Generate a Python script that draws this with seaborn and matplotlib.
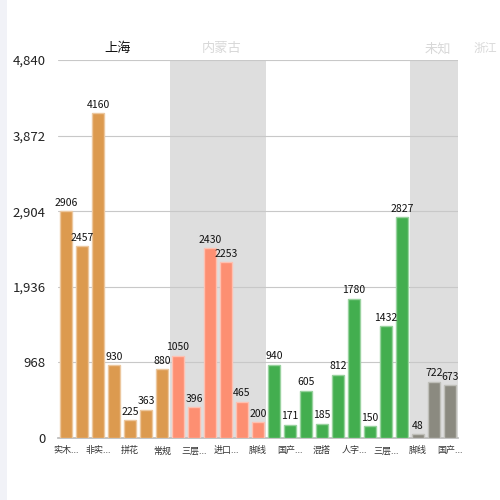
import matplotlib
matplotlib.use("Agg")
import matplotlib.pyplot as plt
import matplotlib.transforms as mtransforms
import matplotlib.colors as mcolors
from matplotlib.ticker import FuncFormatter
import seaborn as sns
import pandas as pd
import numpy as np

sns.set_theme(style="white")
plt.rcParams['font.family'] = ['Noto Sans CJK SC', 'DejaVu Sans']

# ---- data ----
categories = ["实木地板", "非实木地板", "非实木复合", "拼花", "拼花实木", "常规", "常规复合",
              "三层实木", "三层复合", "进口实木", "进口复合", "脚线", "脚线配件",
              "国产实木", "国产复合", "混搭", "混搭拼花", "人字拼", "人字拼花", "三层实木2", "三层复合2", "强化",
              "脚线2", "国产实木2", "国产复合2"]
tick_labels = ["实木...", "", "非实...", "", "拼花", "", "常规", "",
               "三层...", "", "进口...", "", "脚线", "", "国产...", "",
               "混搭", "", "人字...", "", "三层...", "", "脚线", "", "国产..."]
values = [2906, 2457, 4160, 930, 225, 363, 880,
          1050, 396, 2430, 2253, 465, 200,
          940, 171, 605, 185, 812, 1780, 150, 1432, 2827,
          48, 722, 673]
groups = (["上海"] * 7 + ["内蒙古"] * 6 + ["江苏"] * 9 + ["未知"] * 3)
group_names = ["上海", "内蒙古", "江苏", "未知"]
group_colors = ["#dc9a4f", "#fd8f72", "#43ae4f", "#8b8a80"]
y_ticks = [0, 968, 1936, 2904, 3872, 4840]

df = pd.DataFrame({"cat": categories, "value": values, "group": groups})

fig = plt.figure(figsize=(5, 5), dpi=100)
fig.patch.set_facecolor("white")
fig.patches.append(plt.Rectangle((0, 0), 7 / 500, 1, transform=fig.transFigure,
                                 facecolor="#f1f2f7", edgecolor="none", zorder=0))
ax = fig.add_axes([58 / 500, 62 / 500, 400 / 500, 378 / 500])

sns.barplot(data=df, x="cat", y="value", hue="group", order=categories,
            hue_order=group_names, palette=group_colors, dodge=False,
            saturation=1, width=0.8, legend=False, ax=ax, zorder=3)

for p in ax.patches:
    fc = np.array(mcolors.to_rgb(p.get_facecolor()))
    p.set_edgecolor(tuple(fc + (1 - fc) * 0.45))
    p.set_linewidth(1.0)

# shaded group bands
n = len(categories)
starts = [0]
for g in group_names:
    starts.append(starts[-1] + groups.count(g))
for i, g in enumerate(group_names):
    if i % 2 == 1:
        ax.axvspan(starts[i] - 0.5, starts[i + 1] - 0.5, color="#dedede", zorder=0, lw=0)

ax.set_xlim(-0.5, n - 0.5)
ax.set_ylim(0, y_ticks[-1])
ax.set_yticks(y_ticks)
ax.yaxis.set_major_formatter(FuncFormatter(lambda v, _: f"{int(v):,}"))
ax.grid(axis="y", color="#c8c8c8", lw=0.8, zorder=1)
ax.set_axisbelow(True)
ax.set_xticks(range(n))
ax.set_xticklabels(tick_labels, fontsize=6.5, color="#333333")
ax.tick_params(axis="x", length=0, pad=6)
ax.tick_params(axis="y", length=0, pad=9, labelsize=9.5, labelcolor="#222222")
ax.set_xlabel("")
ax.set_ylabel("")
for s in ["top", "right", "left"]:
    ax.spines[s].set_visible(False)
ax.spines["bottom"].set_color("#bbbbbb")
ax.set_facecolor("none")

# value labels
for i, v in enumerate(values):
    ax.text(i, v + 45, str(v), ha="center", va="bottom", fontsize=7.5, color="#111111", zorder=5)

# group labels on top
trans = mtransforms.blended_transform_factory(ax.transData, ax.transAxes)
label_colors = ["#111111", "#d8d8d8", "white", "#d8d8d8"]
for i, g in enumerate(group_names):
    c = (starts[i] + starts[i + 1] - 1) / 2
    ax.text(c + 0.25, 1.03, g, transform=trans, ha="center", va="center",
            fontsize=9.5, color=label_colors[i])
ax.text(n + 0.5, 1.03, "浙江", transform=trans, ha="left", va="center",
        fontsize=8.5, color="#d8d8d8", clip_on=False)

fig.savefig("out.png", dpi=100)
